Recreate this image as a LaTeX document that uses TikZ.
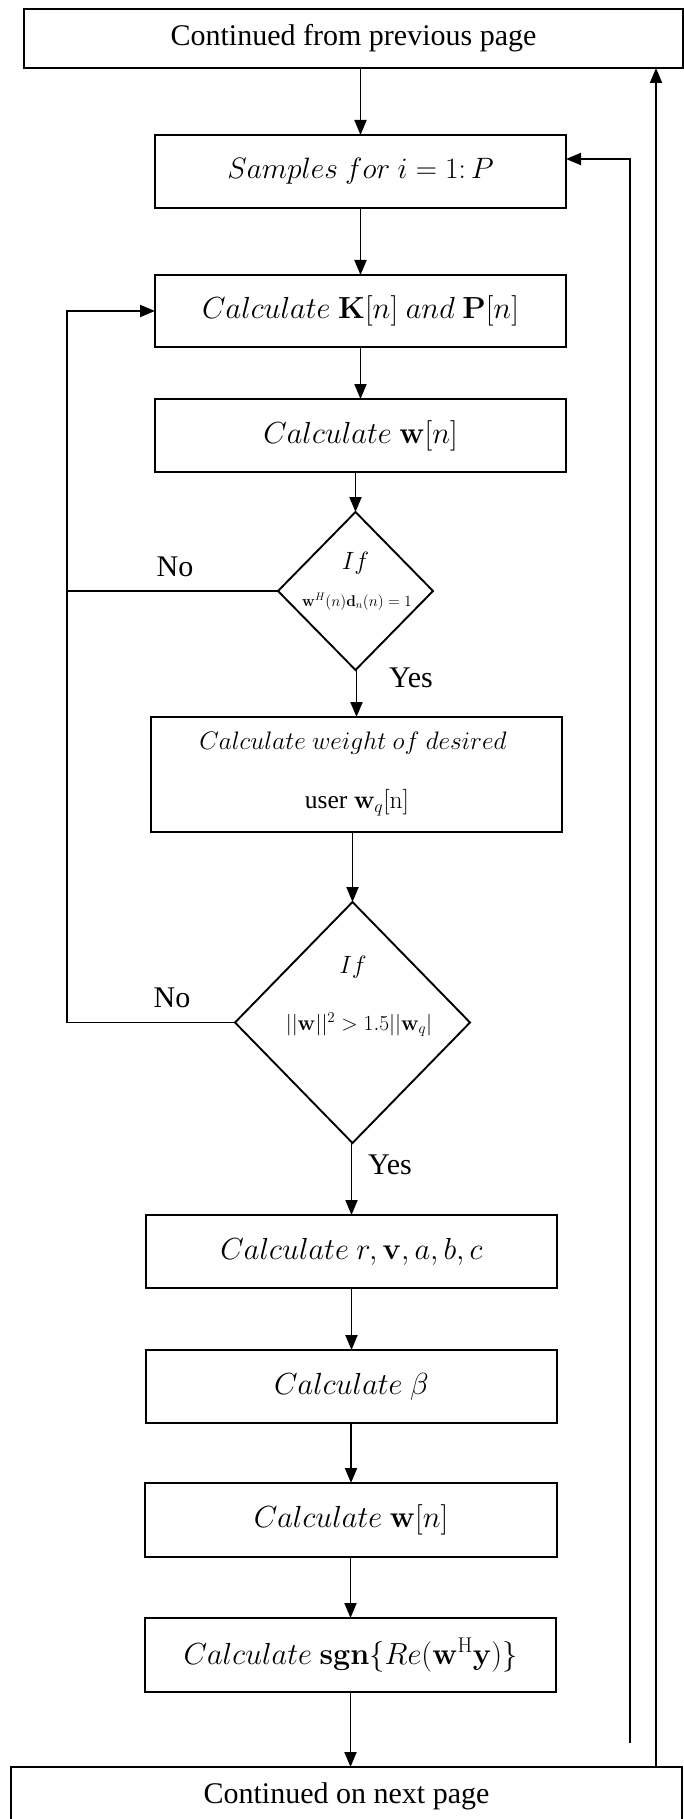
\RequirePackage{fix-cm}
\documentclass[tikz,border=0pt]{standalone}
\usepackage[no-math]{fontspec}
\setmainfont{Liberation Serif}
\usetikzlibrary{arrows.meta,shapes.geometric}
\begin{document}
\begin{tikzpicture}[x=1pt,y=-1pt,
  every node/.style={inner sep=0pt, outer sep=0pt},
  flow/.style={draw, line width=1.9pt, rectangle, minimum width=411pt, minimum height=73pt,
    align=center, font=\fontsize{30.5}{35}\selectfont},
  pagebox/.style={draw, line width=1.9pt, rectangle, minimum height=59pt,
    font=\fontsize{30}{35}\selectfont},
  decision/.style={draw, line width=1.9pt, diamond},
  lbl/.style={font=\fontsize{30}{35}\selectfont},
  conn/.style={line width=1.9pt},
  arr/.style={conn, -{Triangle[length=15pt,width=12pt]}},
]
\useasboundingbox (0,0) rectangle (684,1819);

% page connectors
\node[pagebox, minimum width=659pt] (top) at (353.5,38.5) {Continued from previous page};
\node[pagebox, minimum width=671pt] (bottom) at (346.5,1796.5) {Continued on next page};

% process steps
\node[flow, font=\fontsize{29.5}{34}\selectfont] (samples) at (360.5,171.5) {$Samples\ for\ i = 1{:}\,P$};
\node[flow, minimum height=72pt] (kp) at (360.5,311) {$Calculate\ \mathbf{K}[n]\ and\ \mathbf{P}[n]$};
\node[flow] (w1) at (360.5,435.5) {$Calculate\ \mathbf{w}[n]$};

% first decision
\node[decision, minimum width=155pt, minimum height=158pt] (d1) at (355.5,591) {};
\node[font=\fontsize{25}{30}\selectfont] (d1if) at (355.5,563) {$If$};
\node[font=\fontsize{15.5}{18}\selectfont] (d1cond) at (357,602) {$\mathbf{w}^{H}(n)\mathbf{d}_{n}(n)=1$};

% weight of the desired user
\node[flow, minimum height=115pt] (weight) at (356.5,774.5) {};
\node[font=\fontsize{25.3}{30}\selectfont] (weight1) at (353,743) {$Calculate\ weight\ of\ desired$};
\node[font=\fontsize{25.5}{28}\selectfont] (weight2) at (357,803) {user $\mathbf{w}_{q}[\mathrm{n}]$};

% second decision
\node[decision, minimum width=235pt, minimum height=241pt] (d2) at (352.5,1022.5) {};
\node[font=\fontsize{25}{30}\selectfont] (d2if) at (353,967) {$If$};
\node[font=\fontsize{21.5}{24}\selectfont] (d2cond) at (359,1025) {$||\mathbf{w}||^{2} > 1.5||\mathbf{w}_{q}|$};

% remaining steps
\node[flow] (rv) at (351.5,1251.5) {$Calculate\ r, \mathbf{v}, a, b, c$};
\node[flow] (beta) at (351.5,1386.5) {$Calculate\ \beta$};
\node[flow, minimum height=74pt, minimum width=412pt] (w2) at (351,1520) {$Calculate\ \mathbf{w}[n]$};
\node[flow, minimum height=74pt] (sgn) at (350.5,1655) {$Calculate\ \mathbf{sgn}\{Re(\mathbf{w}^{\mathrm{H}}\mathbf{y})\}$};

% branch labels
\node[lbl] (no1) at (175,567) {No};
\node[lbl] (yes1) at (411,678) {Yes};
\node[lbl] (no2) at (172,998) {No};
\node[lbl] (yes2) at (390,1165) {Yes};

% helper coordinates for the loop lines
\coordinate (leftx) at (67,0);
\coordinate (outerx) at (656,0);
\coordinate (loopend) at (630,1743);
\coordinate (samplesin) at ([yshift=12.5pt]samples.east);

% main flow
\draw[arr] (samples.north |- top.south) -- (samples.north);
\draw[arr] (kp.north |- samples.south) -- (kp.north);
\draw[arr] (w1.north |- kp.south) -- (w1.north);
\draw[arr] (d1.north |- w1.south) -- (d1.north);
\draw[arr] (weight.north |- d1.south) -- (weight.north);
\draw[arr] (d2.north |- weight.south) -- (d2.north);
\draw[arr] (rv.north |- d2.south) -- (rv.north);
\draw[arr] (beta.north |- rv.south) -- (beta.north);
\draw[arr] (w2.north |- beta.south) -- (w2.north);
\draw[arr] (sgn.north |- w2.south) -- (sgn.north);
\draw[arr] (sgn.south) -- (sgn.south |- bottom.north);

% "No" branches back to K[n], P[n]
\draw[arr] (d2.west) -- (d2.west -| leftx) -- (kp.west -| leftx) -- (kp.west);
\draw[conn] (d1.west) -- (d1.west -| leftx);

% loops on the right
\draw[arr] (loopend) -- (loopend |- samplesin) -- (samplesin);
\draw[arr] (bottom.north -| outerx) -- (top.south -| outerx);
\end{tikzpicture}
\end{document}
